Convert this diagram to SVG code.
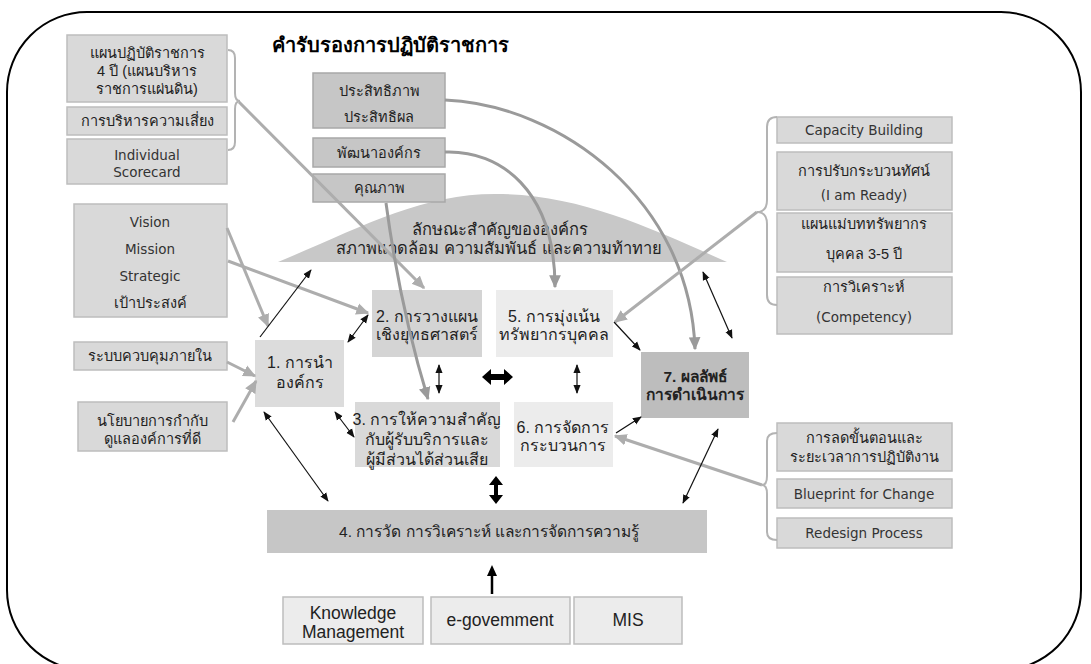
<svg xmlns="http://www.w3.org/2000/svg" width="1091" height="664" viewBox="0 0 1091 664">
<style>
text{font-family:"Liberation Sans","Noto Sans","DejaVu Sans",sans-serif;fill:#222;text-anchor:middle}
.s13{font-size:14.5px}
.lt{font-family:"DejaVu Sans","Liberation Sans",sans-serif;font-size:13.5px;fill:#333}
.s14{font-size:15.5px}
.s15{font-size:16px}
.s17{font-size:17.5px}
.b{font-weight:bold}
.lb{fill:#d9d9d9;stroke:#bdbdbd;stroke-width:1.5}
.tb{fill:#c6c6c6;stroke:#a8a8a8;stroke-width:1.5}
.bb{fill:#ececec;stroke:#bdbdbd;stroke-width:1.5}
.gl{fill:none;stroke:#adadad;stroke-width:3}
.gc{fill:none;stroke:#9a9a9a;stroke-width:3}
.bl{fill:none;stroke:#111;stroke-width:1.2}
.br{fill:none;stroke:#b3b3b3;stroke-width:2}
</style>
<defs>
<marker id="ab" viewBox="0 0 10 10" refX="9" refY="5" markerWidth="9" markerHeight="9" markerUnits="userSpaceOnUse" orient="auto-start-reverse"><path d="M0,1 L10,5 L0,9 z" fill="#111"/></marker>
<marker id="ag" viewBox="0 0 10 10" refX="9" refY="5" markerWidth="13" markerHeight="13" markerUnits="userSpaceOnUse" orient="auto"><path d="M0,0.5 L10,5 L0,9.5 z" fill="#adadad"/></marker>
<marker id="ag2" viewBox="0 0 10 10" refX="9" refY="5" markerWidth="13" markerHeight="13" markerUnits="userSpaceOnUse" orient="auto"><path d="M0,0.5 L10,5 L0,9.5 z" fill="#9a9a9a"/></marker>
</defs>
<rect x="7" y="12" width="1074" height="658" rx="80" ry="80" fill="#fff" stroke="#000" stroke-width="2"/>
<text x="390" y="52" class="b" style="font-size:20px;fill:#000">คำรับรองการปฏิบัติราชการ</text>

<g id="hill">
<path d="M278,262 C360,228 420,194 495,194 C580,194 650,228 727,262 Z" fill="#c8c8c8"/>
<text x="500" y="235" style="font-size:16.5px">ลักษณะสำคัญขององค์กร</text>
<text x="499" y="254" style="font-size:16.5px">สภาพแวดล้อม ความสัมพันธ์  และความท้าทาย</text>
</g>

<g id="n-plan4">
<rect class="lb" x="67" y="35" width="160" height="67"/>
<text x="147" y="58" class="s13">แผนปฏิบัติราชการ</text>
<text x="147" y="76" class="s13">4 ปี (แผนบริหาร</text>
<text x="147" y="94" class="s13">ราชการแผ่นดิน)</text>
</g>
<g id="n-risk">
<rect class="lb" x="67" y="107" width="160" height="28"/>
<text x="147" y="126" class="s13">การบริหารความเสี่ยง</text>
</g>
<g id="n-score">
<rect class="lb" x="67" y="139" width="160" height="45"/>
<text x="147" y="160" class="lt">Individual</text>
<text x="147" y="177" class="lt">Scorecard</text>
</g>
<g id="n-vision">
<rect class="lb" x="74" y="204" width="153" height="113"/>
<text x="150" y="227" class="lt">Vision</text>
<text x="150" y="254" class="lt">Mission</text>
<text x="150" y="281" class="lt">Strategic</text>
<text x="150" y="308" class="s13">เป้าประสงค์</text>
</g>
<g id="n-control">
<rect class="lb" x="74" y="342" width="153" height="28"/>
<text x="150" y="361" class="s13">ระบบควบคุมภายใน</text>
</g>
<g id="n-gov">
<rect class="lb" x="78" y="402" width="149" height="49"/>
<text x="152" y="426" class="s13">นโยบายการกำกับ</text>
<text x="152" y="444" class="s13">ดูแลองค์การที่ดี</text>
</g>

<g id="n-eff">
<rect class="tb" x="313" y="73" width="132" height="55"/>
<text x="379" y="96" class="s13">ประสิทธิภาพ</text>
<text x="379" y="122" class="s13">ประสิทธิผล</text>
</g>
<g id="n-dev">
<rect class="tb" x="313" y="138" width="132" height="29"/>
<text x="379" y="158" class="s13">พัฒนาองค์กร</text>
</g>
<g id="n-qual">
<rect class="tb" x="313" y="174" width="132" height="28"/>
<text x="379" y="193" class="s13">คุณภาพ</text>
</g>

<g id="n1">
<rect x="255" y="340" width="89" height="67" fill="#dcdcdc"/>
<text x="300" y="368" class="s15">1. การนำ</text>
<text x="300" y="388" class="s15">องค์กร</text>
</g>
<g id="n2">
<rect x="372" y="290" width="110" height="67" fill="#d4d4d4"/>
<text x="427" y="322" class="s15">2. การวางแผน</text>
<text x="427" y="340" class="s15">เชิงยุทธศาสตร์</text>
</g>
<g id="n5">
<rect x="496" y="290" width="117" height="67" fill="#ececec"/>
<text x="554" y="322" class="s15">5. การมุ่งเน้น</text>
<text x="554" y="340" class="s15">ทรัพยากรบุคคล</text>
</g>
<g id="n3">
<rect x="355" y="402" width="145" height="65" fill="#d9d9d9"/>
<text x="427" y="425" class="s15">3. การให้ความสำคัญ</text>
<text x="427" y="445" class="s15">กับผู้รับบริการและ</text>
<text x="427" y="465" class="s15">ผู้มีส่วนได้ส่วนเสีย</text>
</g>
<g id="n6">
<rect x="514" y="402" width="99" height="65" fill="#ececec"/>
<text x="563" y="433" class="s15">6. การจัดการ</text>
<text x="563" y="451" class="s15">กระบวนการ</text>
</g>
<g id="n7">
<rect x="641" y="352" width="108" height="66" fill="#bdbdbd"/>
<text x="695" y="382" class="s14 b">7. ผลลัพธ์</text>
<text x="695" y="400" class="s14 b">การดำเนินการ</text>
</g>
<g id="n4">
<rect x="267" y="510" width="440" height="43" fill="#c6c6c6"/>
<text x="489" y="537" class="s14">4. การวัด การวิเคราะห์ และการจัดการความรู้</text>
</g>

<g id="n-km">
<rect class="bb" x="283" y="597" width="140" height="47"/>
<text x="353" y="619" class="s17">Knowledge</text>
<text x="353" y="638" class="s17">Management</text>
</g>
<g id="n-egov">
<rect class="bb" x="431" y="597" width="139" height="47"/>
<text x="500" y="626" class="s17">e-govemment</text>
</g>
<g id="n-mis">
<rect class="bb" x="574" y="597" width="108" height="47"/>
<text x="628" y="626" class="s17">MIS</text>
</g>

<g id="n-cap">
<rect class="lb" x="777" y="117" width="175" height="26"/>
<text x="864" y="135" class="lt">Capacity Building</text>
</g>
<g id="n-ready">
<rect class="lb" x="777" y="152" width="175" height="58"/>
<text x="864" y="176" class="s13">การปรับกระบวนทัศน์</text>
<text x="864" y="200" class="lt">(I am Ready)</text>
</g>
<g id="n-master">
<rect class="lb" x="777" y="213" width="175" height="59"/>
<text x="864" y="229" class="s13">แผนแม่บททรัพยากร</text>
<text x="864" y="259" class="s13">บุคคล 3-5 ปี</text>
</g>
<g id="n-comp">
<rect class="lb" x="777" y="277" width="175" height="57"/>
<text x="864" y="292" class="s13">การวิเคราะห์</text>
<text x="864" y="322" class="lt">(Competency)</text>
</g>

<g id="n-reduce">
<rect class="lb" x="777" y="423" width="175" height="48"/>
<text x="864" y="443" class="s13">การลดขั้นตอนและ</text>
<text x="864" y="462" class="s13">ระยะเวลาการปฏิบัติงาน</text>
</g>
<g id="n-blue">
<rect class="lb" x="777" y="479" width="175" height="29"/>
<text x="864" y="499" class="lt">Blueprint for Change</text>
</g>
<g id="n-redesign">
<rect class="lb" x="777" y="518" width="175" height="30"/>
<text x="864" y="538" class="lt">Redesign Process</text>
</g>

<g id="connectors">
<path class="br" d="M228,50 Q235,50 235,58 L235,93 Q235,101 240,101 Q235,101 235,109 L235,142 Q235,150 228,150"/>
<path class="br" d="M777,117 Q767,117 767,127 L767,200 Q767,212 757,212 Q767,212 767,224 L767,295 Q767,305 777,305"/>
<path class="br" d="M777,433 Q767,433 767,441 L767,476 Q767,485 762,485 Q767,485 767,494 L767,532 Q767,540 777,540"/>
<path class="gl" d="M239,102 L424,288" marker-end="url(#ag)"/>
<path class="gl" d="M227,228 L268,326" marker-end="url(#ag)"/>
<path class="gl" d="M228,261 L368,313" marker-end="url(#ag)"/>
<path class="gl" d="M227,362 L255,376" marker-end="url(#ag)"/>
<path class="gl" d="M233,422 L256,381" marker-end="url(#ag)"/>
<path class="gc" d="M445,100 C560,105 690,200 695,349" marker-end="url(#ag2)"/>
<path class="gc" d="M445,152 C500,150 555,190 555,287" marker-end="url(#ag2)"/>
<path class="gc" d="M386,203 C395,270 410,340 428,399" marker-end="url(#ag2)"/>
<path class="gl" d="M757,212 L615,322" marker-end="url(#ag)"/>
<path class="gl" d="M762,485 L615,436" marker-end="url(#ag)"/>
<path class="bl" d="M260,337 L311,270" marker-end="url(#ab)"/>
<path class="bl" d="M348,342 L368,315" marker-start="url(#ab)" marker-end="url(#ab)"/>
<path class="bl" d="M335,412 L354,437" marker-start="url(#ab)" marker-end="url(#ab)"/>
<path class="bl" d="M264,412 L328,501" marker-start="url(#ab)" marker-end="url(#ab)"/>
<path class="bl" d="M614,322 L640,350" marker-end="url(#ab)"/>
<path class="bl" d="M616,433 L641,417" marker-end="url(#ab)"/>
<path class="bl" d="M718,429 L683,503" marker-start="url(#ab)" marker-end="url(#ab)"/>
<path class="bl" d="M703,272 L732,338" marker-start="url(#ab)" marker-end="url(#ab)"/>
<path class="bl" d="M439,365 L439,393" marker-start="url(#ab)" marker-end="url(#ab)"/>
<path class="bl" d="M577,365 L577,393" marker-start="url(#ab)" marker-end="url(#ab)"/>
<path d="M482,377 L491,369 L491,374 L504,374 L504,369 L513,377 L504,385 L504,380 L491,380 L491,385 Z" fill="#000"/>
<path d="M496,476 L503,485 L498,485 L498,495 L503,495 L496,504 L489,495 L494,495 L494,485 L489,485 Z" fill="#000"/>
<path d="M492,594 L492,574" stroke="#000" stroke-width="2.5"/>
<path d="M492,565 L497,576 L487,576 Z" fill="#000"/>
</g>
</svg>
